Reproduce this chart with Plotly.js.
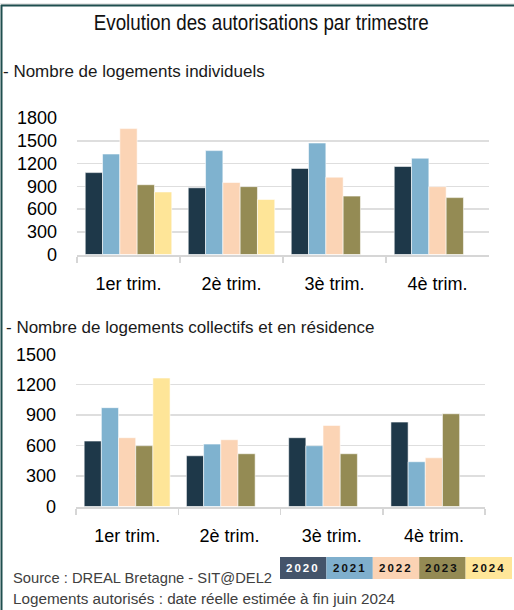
<!DOCTYPE html>
<html>
<head>
<meta charset="utf-8">
<script src="https://cdn.plot.ly/plotly-3.0.1.min.js"></script>
<style>
html,body{margin:0;padding:0;background:#fff;}
#chart{width:514px;height:610px;}
</style>
</head>
<body>
<div id="chart"></div>
<script>
// ---- data ----
const quarters = ["1er trim.", "2è trim.", "3è trim.", "4è trim."];
const years = ["2020", "2021", "2022", "2023", "2024"];

const indiv2020 = [1080, 880, 1135, 1160];
const indiv2021 = [1325, 1370, 1470, 1270];
const indiv2022 = [1660, 950, 1020, 895];
const indiv2023 = [920, 895, 770, 750];
const indiv2024 = [825, 725, null, null];

const coll2020 = [645, 500, 678, 832];
const coll2021 = [974, 615, 599, 441];
const coll2022 = [678, 658, 799, 480];
const coll2023 = [599, 520, 520, 914];
const coll2024 = [1266, null, null, null];

const yTicksIndiv = [0, 300, 600, 900, 1200, 1500, 1800];
const yTicksColl = [0, 300, 600, 900, 1200, 1500];

const title = "Evolution des autorisations par trimestre";
const subtitle1 = "- Nombre de logements individuels";
const subtitle2 = "- Nombre de logements collectifs et en résidence";
const source1 = "Source : DREAL Bretagne - SIT@DEL2";
const source2 = "Logements autorisés : date réelle estimée à fin juin 2024";

// ---- styles ----
const barColors = ["#1E3849", "#7FB2CF", "#FBD4B5", "#948B54", "#FEE598"];
const legendColors = ["#44546A", "#7FAFCD", "#FBD3B4", "#948A54", "#FFE699"];
const legendText = ["#FFFFFF", "#111111", "#111111", "#111111", "#111111"];

const W = 514, H = 610;
const px = x => x / W;
const py = y => 1 - y / H;

const indivSeries = [indiv2020, indiv2021, indiv2022, indiv2023, indiv2024];
const collSeries = [coll2020, coll2021, coll2022, coll2023, coll2024];

const traces = [];
years.forEach((yr, i) => {
  traces.push({
    type: "bar", x: quarters, y: indivSeries[i], name: yr,
    xaxis: "x", yaxis: "y",
    marker: {color: barColors[i], line: {color: "rgba(255,255,255,0.7)", width: 0.8}},
    showlegend: false, hoverinfo: "skip"
  });
});
years.forEach((yr, i) => {
  traces.push({
    type: "bar", x: quarters, y: collSeries[i], name: yr,
    xaxis: "x2", yaxis: "y2",
    marker: {color: barColors[i], line: {color: "rgba(255,255,255,0.7)", width: 0.8}},
    showlegend: false, hoverinfo: "skip"
  });
});

const tickFont = {family: "Liberation Sans, Arial, sans-serif", size: 18, color: "#000"};
const gridColor = "#dedede";

const xCommon = {
  type: "category", showline: true, linecolor: "#d6d6d6", linewidth: 2,
  ticks: "outside", tickson: "boundaries", ticklen: 6, tickcolor: "#d6d6d6", tickwidth: 1.5,
  showgrid: false, zeroline: false, tickfont: tickFont, ticklabelstandoff: 12,
  fixedrange: true
};
const yCommon = {
  showline: false, zeroline: false, showgrid: true, gridcolor: gridColor, gridwidth: 1.5,
  ticks: "", tickfont: tickFont, ticklabelstandoff: 19, fixedrange: true
};

const shapes = [
  {type: "line", xref: "paper", yref: "paper", x0: 0, x1: 1, y0: py(4), y1: py(4), line: {color: "#d0d0d0", width: 1}},
  {type: "line", xref: "paper", yref: "paper", x0: px(1), x1: 1, y0: py(5.5), y1: py(5.5), line: {color: "#1F4E4F", width: 2}},
  {type: "line", xref: "paper", yref: "paper", x0: px(1.5), x1: px(1.5), y0: py(5), y1: 0, line: {color: "#1F4E4F", width: 2}}
];
const annotations = [
  {text: title, xref: "paper", yref: "paper", x: px(261), y: py(23), xanchor: "center", yanchor: "middle", showarrow: false,
   font: {family: "Liberation Sans, Arial, sans-serif", size: 22, color: "#111"}},
  {text: subtitle1, xref: "paper", yref: "paper", x: px(1), y: py(71), xanchor: "left", yanchor: "middle", showarrow: false, align: "left",
   font: {family: "Liberation Sans, Arial, sans-serif", size: 17, color: "#1a1a1a"}},
  {text: subtitle2, xref: "paper", yref: "paper", x: px(4), y: py(327), xanchor: "left", yanchor: "middle", showarrow: false, align: "left",
   font: {family: "Liberation Sans, Arial, sans-serif", size: 17, color: "#1a1a1a"}},
  {text: source1, xref: "paper", yref: "paper", x: px(11), y: py(577), xanchor: "left", yanchor: "middle", showarrow: false, align: "left",
   font: {family: "Liberation Sans, Arial, sans-serif", size: 15, color: "#404040"}},
  {text: source2, xref: "paper", yref: "paper", x: px(11), y: py(598), xanchor: "left", yanchor: "middle", showarrow: false, align: "left",
   font: {family: "Liberation Sans, Arial, sans-serif", size: 15.5, color: "#404040"}}
];

const legX0 = 280, legW = 46.4, legY0 = 557, legY1 = 579;
years.forEach((yr, i) => {
  const x0 = legX0 + i * legW, x1 = x0 + legW;
  shapes.push({type: "rect", xref: "paper", yref: "paper", x0: px(x0), x1: px(x1), y0: py(legY1), y1: py(legY0),
    fillcolor: legendColors[i], line: {width: 0}, layer: "below"});
  annotations.push({text: "<b>" + yr + "</b>", xref: "paper", yref: "paper", x: px((x0 + x1) / 2), y: py((legY0 + legY1) / 2),
    xanchor: "center", yanchor: "middle", showarrow: false,
    font: {family: "Liberation Sans, Arial, sans-serif", size: 11.5, color: legendText[i]}});
});

// target rendered widths (px) for the condensed texts of the original
const fitWidths = {};
fitWidths[title] = 335;
fitWidths[source1] = 259;
fitWidths[source2] = 382;

const layout = {
  width: W, height: H,
  margin: {l: 0, r: 0, t: 0, b: 0},
  paper_bgcolor: "#fff", plot_bgcolor: "rgba(0,0,0,0)",
  barmode: "group", bargap: 0.16, bargroupgap: 0,
  showlegend: false,
  xaxis: Object.assign({}, xCommon, {domain: [px(77), px(489)], anchor: "y"}),
  yaxis: Object.assign({}, yCommon, {domain: [py(254.5), py(118)], range: [0, 1800], tickvals: yTicksIndiv, anchor: "x"}),
  xaxis2: Object.assign({}, xCommon, {domain: [px(76), px(485)], anchor: "y2"}),
  yaxis2: Object.assign({}, yCommon, {domain: [py(506.5), py(354.3)], range: [0, 1500], tickvals: yTicksColl, anchor: "x2"}),
  shapes: shapes,
  annotations: annotations
};

Plotly.newPlot("chart", traces, layout, {staticPlot: true, displayModeBar: false}).then(() => {
  document.querySelectorAll(".annotation-text").forEach(t => {
    const txt = t.textContent;
    if (years.indexOf(txt) >= 0) {
      t.style.letterSpacing = "2px";
    }
    if (fitWidths[txt]) {
      t.setAttribute("textLength", fitWidths[txt]);
      t.setAttribute("lengthAdjust", "spacingAndGlyphs");
    }
  });
});
</script>
</body>
</html>
